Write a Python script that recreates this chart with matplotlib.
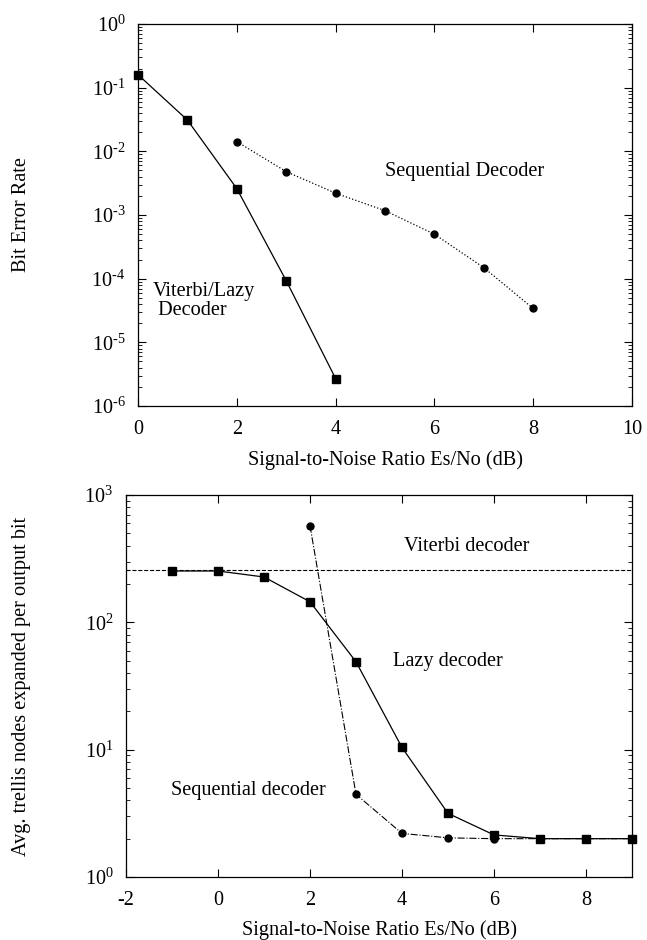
import matplotlib
matplotlib.use('Agg')
import matplotlib.pyplot as plt
from matplotlib.ticker import LogLocator, FuncFormatter, NullFormatter
import numpy as np

plt.rcParams['font.family'] = ['Liberation Serif', 'DejaVu Serif']
plt.rcParams['mathtext.fontset'] = 'custom'
plt.rcParams['mathtext.rm'] = 'Liberation Serif'
plt.rcParams['mathtext.it'] = 'Liberation Serif:italic'
plt.rcParams['axes.unicode_minus'] = False
FS = 14.6
plt.rcParams['font.size'] = FS

# top panel: bit error rate
ber_snr_viterbi = [0, 1, 2, 3, 4]
ber_viterbi = [0.16, 0.031, 0.0026, 9.3e-5, 2.7e-6]
ber_snr_seq = [2, 3, 4, 5, 6, 7, 8]
ber_seq = [0.0142, 0.0048, 0.0022, 0.00117, 0.0005, 0.000149, 3.4e-5]

# bottom panel: trellis nodes expanded
nodes_snr_lazy = [-1, 0, 1, 2, 3, 4, 5, 6, 7, 8, 9]
nodes_lazy = [253, 253, 227, 145, 49, 10.4, 3.16, 2.14, 2.0, 2.0, 2.0]
nodes_snr_seq = [2, 3, 4, 5, 6, 7, 8, 9]
nodes_seq = [574, 4.46, 2.2, 2.03, 2.0, 2.0, 2.0, 2.0]
viterbi_nodes = 256

W, H = 647, 940
fig = plt.figure(figsize=(W / 100, H / 100), dpi=100)


def pow10(v, pos):
    e = int(round(np.log10(v)))
    return r'$10^{\text{%d}}$' % e


def style(ax):
    ax.tick_params(which='both', direction='in', top=True, right=True, labelsize=FS)
    ax.tick_params(which='major', length=6, width=0.8)
    ax.tick_params(which='minor', length=3, width=0.6)
    ax.tick_params(axis='x', pad=10)
    ax.tick_params(axis='y', pad=9)
    for s in ax.spines.values():
        s.set_linewidth(0.9)
    ax.yaxis.set_major_locator(LogLocator(base=10, numticks=20))
    ax.yaxis.set_minor_locator(LogLocator(base=10, subs=range(2, 10), numticks=20))
    ax.yaxis.set_major_formatter(FuncFormatter(pow10))
    ax.yaxis.set_minor_formatter(NullFormatter())


ax1 = fig.add_axes([138 / W, 1 - 406 / H, 494 / W, 382 / H])
ax1.set_yscale('log')
ax1.plot(ber_snr_viterbi, ber_viterbi, 'k-', marker='s', ms=6, lw=0.9, clip_on=False)
ax1.plot(ber_snr_seq, ber_seq, 'k:', marker='o', ms=5, lw=0.9)
ax1.set_xlim(0, 10)
ax1.set_ylim(1e-6, 1)
ax1.set_xticks(range(0, 11, 2))
style(ax1)
ax1.set_xlabel('Signal-to-Noise Ratio Es/No (dB)', fontsize=FS)
ax1.set_ylabel('Bit Error Rate', fontsize=FS)
ax1.xaxis.set_label_coords(0.5, -0.115)
ax1.yaxis.set_label_coords(-0.217, 0.5)
ax1.text(0.3, 9.0e-5, 'Viterbi/Lazy\n Decoder', fontsize=FS, va='top', ha='left', linespacing=1.0)
ax1.text(6.62, 0.0048, 'Sequential Decoder', fontsize=FS, va='center', ha='center')

ax2 = fig.add_axes([126 / W, 1 - 877 / H, 506 / W, 382 / H])
ax2.set_yscale('log')
ax2.axhline(viterbi_nodes, color='k', ls='--', lw=0.8)
ax2.plot(nodes_snr_lazy, nodes_lazy, 'k-', marker='s', ms=6, lw=0.9, clip_on=False)
ax2.plot(nodes_snr_seq, nodes_seq, 'k-.', marker='o', ms=5, lw=0.8, clip_on=False)
ax2.set_xlim(-2, 9)
ax2.set_ylim(1, 1000)
ax2.set_xticks(range(-2, 9, 2))
style(ax2)
ax2.set_xlabel('Signal-to-Noise Ratio Es/No (dB)', fontsize=FS)
ax2.set_ylabel('Avg. trellis nodes expanded per output bit', fontsize=FS)
ax2.xaxis.set_label_coords(0.5, -0.1126)
ax2.yaxis.set_label_coords(-0.188, 0.5)
ax2.text(5.41, 393, 'Viterbi decoder', fontsize=FS, va='center', ha='center')
ax2.text(5.0, 49, 'Lazy decoder', fontsize=FS, va='center', ha='center')
ax2.text(0.67, 4.8, 'Sequential decoder', fontsize=FS, va='center', ha='center')

fig.savefig('out.png', dpi=100)
